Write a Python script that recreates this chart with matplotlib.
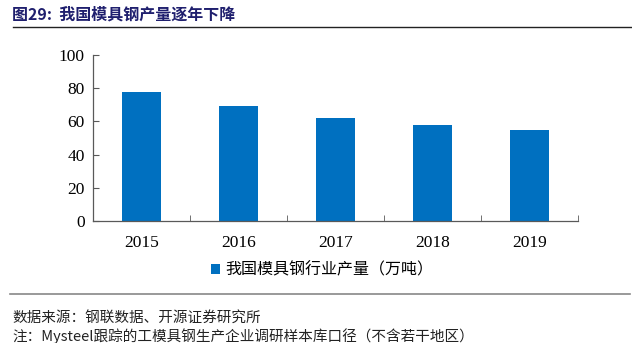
import matplotlib.pyplot as plt
from matplotlib.lines import Line2D

plt.rcParams['font.family'] = ['Noto Sans CJK SC', 'DejaVu Sans']

years = ["2015", "2016", "2017", "2018", "2019"]
output = [77.5, 69.0, 62.0, 57.8, 54.7]
yticks = [0, 20, 40, 60, 80, 100]

W, H = 632, 343
fig = plt.figure(figsize=(W / 100, H / 100), dpi=100)


def fx(px):
    return px / W


def fy(py):
    return 1 - py / H


ax = fig.add_axes([fx(93), fy(221), fx(578 - 93), fy(55) - fy(221)])
xs = list(range(len(years)))
bars = ax.bar(xs, output, width=0.4, color="#0070C0", label="我国模具钢行业产量（万吨）")

ax.set_xlim(-0.5, len(years) - 0.5)
ax.set_ylim(0, 100)
ax.set_yticks(yticks)
ax.set_xticks(xs)
ax.set_xticklabels(years)
ax.set_xticks([x + 0.5 for x in xs], minor=True)
for lbl in ax.get_xticklabels() + ax.get_yticklabels():
    lbl.set_fontfamily("Liberation Serif")
    lbl.set_fontsize(12.5)
ax.tick_params(axis="x", which="major", length=0, pad=10)
ax.tick_params(axis="x", which="minor", length=4, direction="in", color="#595959")
ax.tick_params(axis="y", length=4, direction="in", color="#595959", pad=6)
for s in ["top", "right"]:
    ax.spines[s].set_visible(False)
for s in ["left", "bottom"]:
    ax.spines[s].set_color("#595959")
    ax.spines[s].set_linewidth(0.9)

fig.legend(handles=[bars], loc="center", bbox_to_anchor=(fx(322), fy(270)),
           frameon=False, fontsize=11.5, handlelength=0.6, handleheight=0.6,
           handletextpad=0.3)

# header and footer
fig.text(fx(12), fy(15), "图29:  我国模具钢产量逐年下降", fontsize=11.5, fontweight="bold",
         color="#1F1F6E", va="center", ha="left")
fig.add_artist(Line2D([fx(13), fx(632)], [fy(27), fy(27)], color="#222222", lw=1.0))
fig.add_artist(Line2D([fx(10), fx(630)], [fy(294), fy(294)], color="#888888", lw=1.2))
fig.text(fx(12), fy(318), "数据来源：钢联数据、开源证券研究所", fontsize=10.5,
         color="#222222", va="center", ha="left")
fig.text(fx(12), fy(336), "注：Mysteel跟踪的工模具钢生产企业调研样本库口径（不含若干地区）",
         fontsize=10.5, color="#222222", va="center", ha="left")

fig.savefig("out.png", dpi=100)
